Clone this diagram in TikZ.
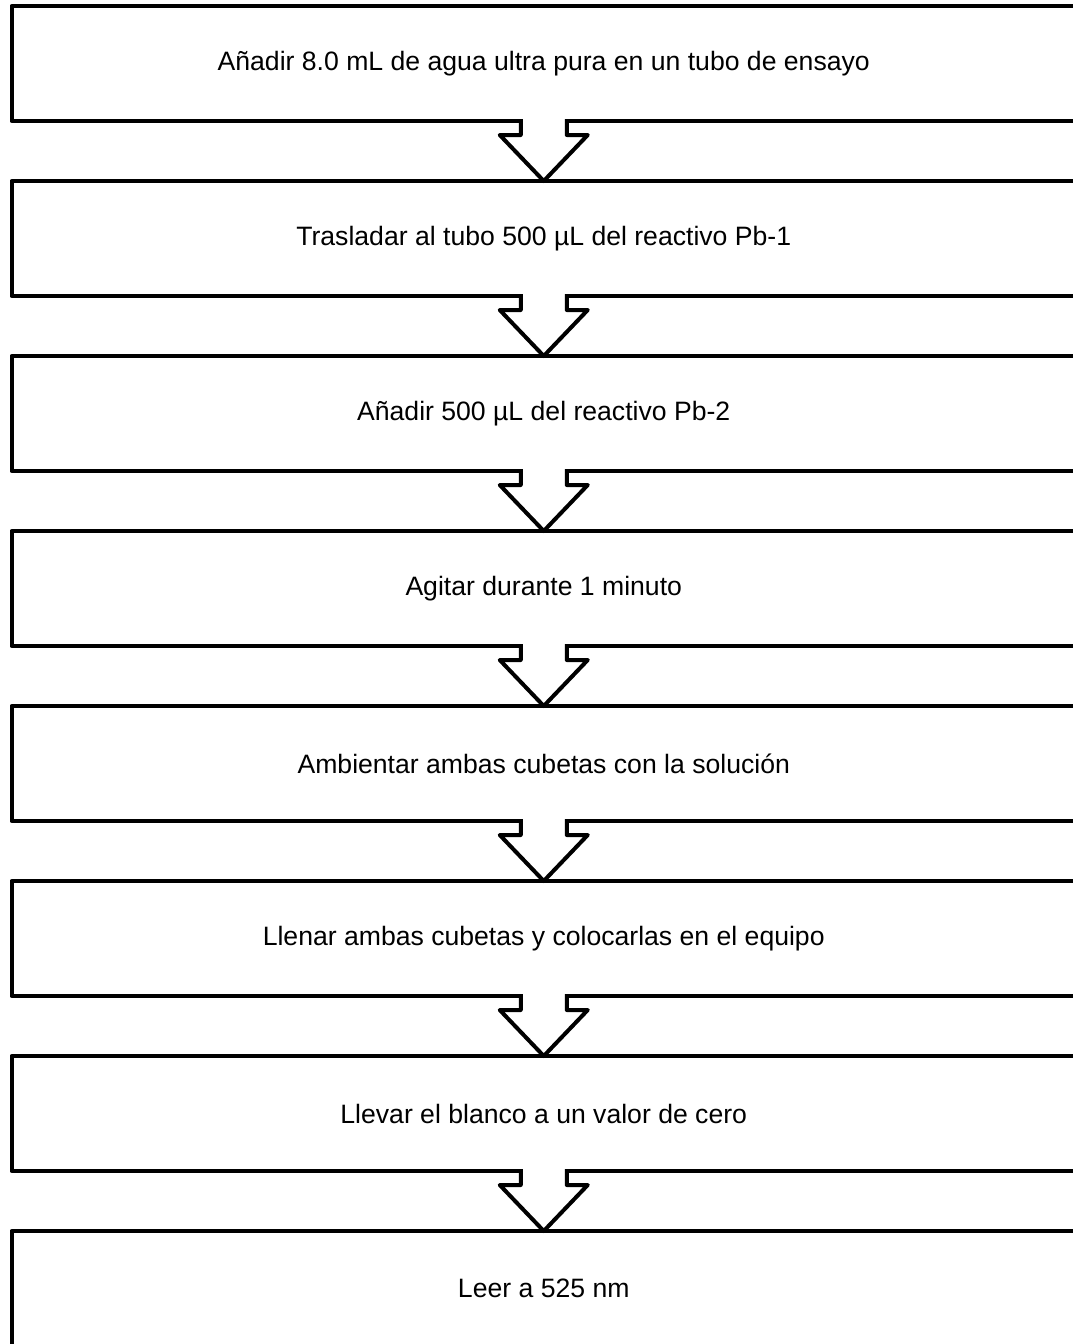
\documentclass[tikz,border=0pt]{standalone}
\usepackage{fontspec}
\setmainfont{Liberation Sans}
\usetikzlibrary{calc}
\begin{document}
\begin{tikzpicture}[x=1pt,y=-1pt,line width=4pt,line join=round,
  stepbox/.style={draw,rectangle,outer sep=0pt,minimum width=1064.5pt,minimum height=115pt,
    font=\fontsize{26.6}{32}\selectfont,inner sep=0pt}]
\useasboundingbox (0,0) rectangle (1073,1344);
\clip (0,0) rectangle (1073,1344);
\foreach \i/\t in {0/{Añadir 8.0 mL de agua ultra pura en un tubo de ensayo},
                   1/{Trasladar al tubo 500 µL del reactivo Pb-1},
                   2/{Añadir 500 µL del reactivo Pb-2},
                   3/{Agitar durante 1 minuto},
                   4/{Ambientar ambas cubetas con la solución},
                   5/{Llenar ambas cubetas y colocarlas en el equipo},
                   6/{Llevar el blanco a un valor de cero},
                   7/{Leer a 525 nm}}{
  \node[stepbox] (b\i) at (543.75,{63.5+175*\i}) {\raisebox{-3pt}{\t}};
}
\foreach \i [evaluate=\i as \j using int(\i+1)] in {0,...,6}{
  \coordinate (s\i) at (b\i.south);
  \fill[white] ($(s\i)+(-22,-3)$) rectangle ($(s\i)+(22,3)$);
  \draw ($(s\i)+(-23,-2)$) -- ($(s\i)+(-23,14)$) -- ($(s\i)+(-44,14)$) -- (b\j.north)
        -- ($(s\i)+(44,14)$) -- ($(s\i)+(23,14)$) -- ($(s\i)+(23,-2)$);
}
\end{tikzpicture}
\end{document}
